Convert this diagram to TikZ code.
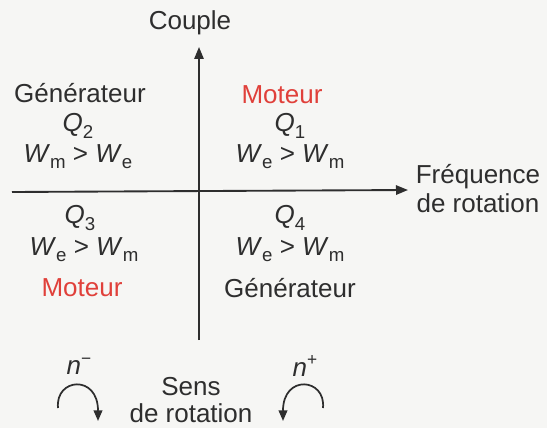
\documentclass[tikz,border=0pt]{standalone}
\usepackage{fontspec}
\setmainfont{Liberation Sans}
\usetikzlibrary{arrows.meta}
\definecolor{ink}{HTML}{2E2E2E}
\definecolor{redtxt}{HTML}{E0403A}
\definecolor{paper}{HTML}{F6F6F4}
\newcommand{\lowsub}[1]{\raisebox{-0.45ex}{\fontsize{14pt}{14pt}\selectfont #1}}
\newcommand{\highsup}[1]{\raisebox{0.75ex}{\fontsize{13pt}{13pt}\selectfont #1}}
\begin{document}
\begin{tikzpicture}[x=0.75pt,y=-0.75pt,
  lbl/.style={text=ink,font=\fontsize{19.5pt}{22pt}\selectfont,inner sep=0pt,anchor=center},
  redlbl/.style={lbl,text=redtxt},
  axis/.style={draw=ink,line width=1.4pt,-{Triangle[length=9pt,width=7pt]}},
  rot/.style={draw=ink,line width=1.3pt,-{Triangle[length=8pt,width=6.5pt]}}]
\fill[paper] (0,0) rectangle (547,428);
\useasboundingbox (0,0) rectangle (547,428);
% axes
\coordinate (hstart) at (12,192);
\coordinate (hend) at (408,190);
\coordinate (vstart) at (199,340);
\coordinate (vend) at (199,47);
\draw[axis] (hstart) -- (hend);
\draw[axis] (vstart) -- (vend);
% labels
\node[lbl] (couple) at (190,23) {Couple};
\node[lbl] (freq) at (478,177) {Fréquence};
\node[lbl] (freqb) at (478,203) {de rotation};
% Q2
\node[lbl] (gen2) at (80,93) {Générateur};
\node[lbl] (q2) at (78,126) {\textit{Q}\lowsub{2}};
\node[lbl] (w2) at (78,157) {\textit{W}\lowsub{m} > \textit{W}\lowsub{e}};
% Q1
\node[redlbl] (mot1) at (282,95) {Moteur};
\node[lbl] (q1) at (290,126) {\textit{Q}\lowsub{1}};
\node[lbl] (w1) at (290,157) {\textit{W}\lowsub{e} > \textit{W}\lowsub{m}};
% Q3
\node[lbl] (q3) at (80,218) {\textit{Q}\lowsub{3}};
\node[lbl] (w3) at (84,250) {\textit{W}\lowsub{e} > \textit{W}\lowsub{m}};
\node[redlbl] (mot3) at (82,288) {Moteur};
% Q4
\node[lbl] (q4) at (290,218) {\textit{Q}\lowsub{4}};
\node[lbl] (w4) at (290,250) {\textit{W}\lowsub{e} > \textit{W}\lowsub{m}};
\node[lbl] (gen4) at (290,288) {Générateur};
% bottom
\node[lbl] (sens) at (191,387) {Sens};
\node[lbl] (sensb) at (191,413) {de rotation};
\node[lbl] (nminus) at (79,366) {\textit{n}\highsup{\textminus}};
\node[lbl] (nplus) at (305,366) {\textit{n}\highsup{+}};
\coordinate (am1) at (58,408);
\coordinate (am2) at (98,421);
\coordinate (ap1) at (323,408);
\coordinate (ap2) at (283,421);
\draw[rot] (am1) .. controls (55,378) and (98,374) .. (am2);
\draw[rot] (ap1) .. controls (326,378) and (283,374) .. (ap2);
\end{tikzpicture}
\end{document}
